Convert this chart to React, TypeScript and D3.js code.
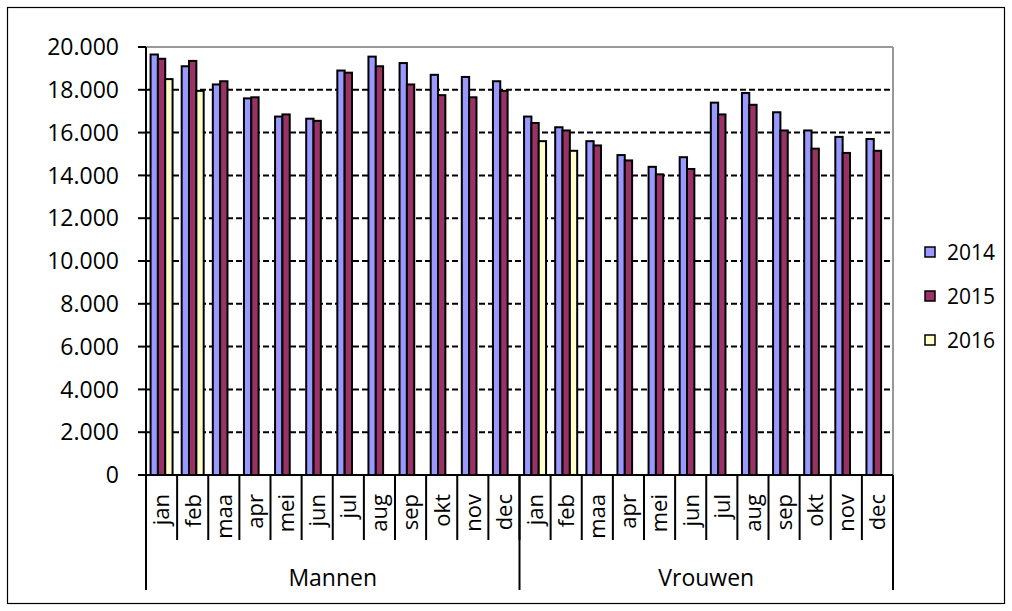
import React from "react";
import * as d3 from "d3";

// chart values
const months = ["jan", "feb", "maa", "apr", "mei", "jun", "jul", "aug", "sep", "okt", "nov", "dec"];
const groups = ["Mannen", "Vrouwen"];
const years = ["2014", "2015", "2016"];

const mannen2014 = [19650, 19100, 18250, 17600, 16750, 16650, 18900, 19550, 19250, 18700, 18600, 18400];
const mannen2015 = [19450, 19350, 18400, 17650, 16850, 16550, 18800, 19100, 18250, 17750, 17650, 17950];
const mannen2016 = [18500, 17950, null, null, null, null, null, null, null, null, null, null];
const vrouwen2014 = [16750, 16250, 15600, 14950, 14400, 14850, 17400, 17850, 16950, 16100, 15800, 15700];
const vrouwen2015 = [16450, 16100, 15400, 14700, 14050, 14300, 16850, 17300, 16100, 15250, 15050, 15150];
const vrouwen2016 = [15600, 15150, null, null, null, null, null, null, null, null, null, null];

const yTicks = [0, 2000, 4000, 6000, 8000, 10000, 12000, 14000, 16000, 18000, 20000];

const colors = ["#9999FF", "#993366", "#FFFFCC"];
const font = "'Open Sans', sans-serif";

const W = 1012;
const H = 611;
const left = 146;
const right = 893;
const top = 47;
const bottom = 475;

type Row = { key: string; group: string; month: string; vals: (number | null)[] };

const rows: Row[] = [];
months.forEach((m, i) =>
  rows.push({ key: "M" + i, group: groups[0], month: m, vals: [mannen2014[i], mannen2015[i], mannen2016[i]] })
);
months.forEach((m, i) =>
  rows.push({ key: "V" + i, group: groups[1], month: m, vals: [vrouwen2014[i], vrouwen2015[i], vrouwen2016[i]] })
);

const fmt = (v: number) => d3.format(",")(v).replace(/,/g, ".");

export default function App() {
  const x = d3.scaleBand<string>().domain(rows.map((r) => r.key)).range([left, right]);
  const y = d3.scaleLinear().domain([0, 20000]).range([bottom, top]);
  const cluster = 22;
  const inner = d3.scaleBand<string>().domain(years).range([0, cluster]);
  const bw = x.bandwidth();

  const groupStarts = groups.map((g) => x(rows.find((r) => r.group === g)!.key)!);

  return (
    <svg width={W} height={H} style={{ position: "absolute", left: 0, top: 0 }} fontFamily={font}>
      <rect x={7.5} y={7.5} width={997} height={596} fill="white" stroke="black" strokeWidth={1.2} />

      {/* gridlines */}
      {yTicks.slice(1, -1).map((t) => (
        <line key={t} x1={left} x2={right} y1={y(t)} y2={y(t)} stroke="black" strokeWidth={2} strokeDasharray="6,3" />
      ))}
      <line x1={left} x2={right} y1={y(20000)} y2={y(20000)} stroke="#999" strokeWidth={2} />
      <line x1={right} x2={right} y1={top} y2={bottom} stroke="#999" strokeWidth={2} />

      {/* bars */}
      {rows.map((r) =>
        r.vals.map((v, j) =>
          v == null ? null : (
            <rect
              key={r.key + j}
              x={x(r.key)! + (bw - cluster) / 2 + inner(years[j])!}
              y={y(v)}
              width={inner.bandwidth()}
              height={bottom - y(v)}
              fill={colors[j]}
              stroke="black"
              strokeWidth={2}
            />
          )
        )
      )}

      {/* y axis */}
      <line x1={left} x2={left} y1={top} y2={bottom} stroke="black" strokeWidth={2} />
      {yTicks.map((t) => (
        <g key={t}>
          <line x1={left - 8} x2={left} y1={y(t)} y2={y(t)} stroke="black" strokeWidth={2} />
          <text x={left - 27} y={y(t)} dy="0.36em" textAnchor="end" fontSize={23} fill="black">
            {fmt(t)}
          </text>
        </g>
      ))}

      {/* x axis */}
      <line x1={left - 8} x2={right} y1={bottom} y2={bottom} stroke="black" strokeWidth={2} />
      {rows.map((r) => (
        <g key={r.key}>
          <line x1={x(r.key)! + bw} x2={x(r.key)! + bw} y1={bottom} y2={540} stroke="black" strokeWidth={2} />
          <text
            transform={`translate(${x(r.key)! + bw / 2},494) rotate(-90)`}
            textAnchor="end"
            dy="0.36em"
            fontSize={22}
            fill="black"
          >
            {r.month}
          </text>
        </g>
      ))}
      {[...groupStarts, right].map((gx, i) => (
        <line key={i} x1={gx} x2={gx} y1={bottom} y2={590} stroke="black" strokeWidth={2} />
      ))}
      {groups.map((g, i) => {
        const x0 = groupStarts[i];
        const x1 = i + 1 < groups.length ? groupStarts[i + 1] : right;
        return (
          <text key={g} x={(x0 + x1) / 2} y={586} textAnchor="middle" fontSize={23} fill="black">
            {g}
          </text>
        );
      })}

      {/* legend */}
      {years.map((yr, i) => (
        <g key={yr} transform={`translate(925,${252 + i * 44})`}>
          <rect x={0} y={-5} width={10} height={10} fill={colors[i]} stroke="black" strokeWidth={1.5} />
          <text x={22} y={0} dy="0.36em" fontSize={21} fill="black">
            {yr}
          </text>
        </g>
      ))}
    </svg>
  );
}
